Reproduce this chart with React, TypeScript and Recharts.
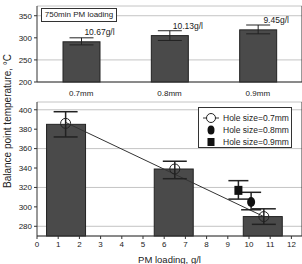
import React from 'react';
import { ComposedChart, Bar, XAxis, YAxis, CartesianGrid, ErrorBar, Scatter, Line } from 'recharts';

const FONT = '"Liberation Sans", Arial, sans-serif';

// Top panel: 750 min PM loading by hole size
const holeSizes = ['0.7mm', '0.8mm', '0.9mm'];
const topTemps = [291, 305, 318];
const topErrors = [[7, 9], [11, 11], [9, 11]];
const topLoadings = ['10.67g/l', '10.13g/l', '9.45g/l'];
const topTicks = [200, 250, 300, 350];

// Bottom panel: balance point vs PM loading
const barLoadings = [1.37, 6.45, 10.65];
const barTemps = [385, 339, 290];

const hole07Loading = [1.35, 6.5, 10.7];
const hole07Temp = [386, 339, 290];
const hole07Err = [[14, 12], [10, 8], [8, 8]];

const hole08Loading = [10.1];
const hole08Temp = [305];
const hole08Err = [[8, 10]];

const hole09Loading = [9.5];
const hole09Temp = [317];
const hole09Err = [[9, 10]];

const trendLoading = [1.35, 10.7];
const trendTemp = [387, 290];

const xTicks = [0, 1, 2, 3, 4, 5, 6, 7, 8, 9, 10, 11, 12];
const bottomTicks = [280, 300, 320, 340, 360, 380, 400];

const topData = holeSizes.map((h, i) => ({ name: h, temp: topTemps[i], err: topErrors[i], loading: topLoadings[i] }));
const barData = barLoadings.map((x, i) => ({ x, temp: barTemps[i] }));
const hole07 = hole07Loading.map((x, i) => ({ x, y: hole07Temp[i], err: hole07Err[i] }));
const hole08 = hole08Loading.map((x, i) => ({ x, y: hole08Temp[i], err: hole08Err[i] }));
const hole09 = hole09Loading.map((x, i) => ({ x, y: hole09Temp[i], err: hole09Err[i] }));
const trend = trendLoading.map((x, i) => ({ x, y: trendTemp[i] }));

const tickStyle = { fontSize: 8, fill: '#222', fontFamily: FONT };
const axisLine = { stroke: '#333' };

const OpenCircle = (props: any) => <circle cx={props.cx} cy={props.cy} r={5} fill="none" stroke="#222" strokeWidth={1} />;
const FilledCircle = (props: any) => <ellipse cx={props.cx} cy={props.cy} rx={4} ry={5} fill="#111" />;
const FilledSquare = (props: any) => <rect x={props.cx - 4} y={props.cy - 4.5} width={8} height={9} fill="#111" />;

// numeric x axis squeezes bars, so draw them at a fixed width around their centre
const WideBar = (props: any) => {
    const { x, y, width, height } = props;
    const cx = x + width / 2;
    return <rect x={cx - 19.5} y={y} width={39} height={height} fill="#4a4a4a" stroke="#222" />;
};

// top bars carry their loading label up and to the right
const LabelledBar = (props: any) => {
    const { x, y, width, height, index } = props;
    return (
        <g>
            <rect x={x} y={y} width={width} height={height} fill="#4a4a4a" stroke="#222" />
            <text x={x + width / 2 + 18} y={y - 7} textAnchor="middle" fontSize={8.5} fill="#222" fontFamily={FONT}>
                {topLoadings[index]}
            </text>
        </g>
    );
};

const App: React.FC = () => {
    return (
        <div style={{ position: 'absolute', left: 0, top: 0, width: 302, height: 264, background: '#fff', fontFamily: FONT }}>
            {/* Top panel */}
            <div style={{ position: 'absolute', left: 0, top: 0 }}>
                <ComposedChart width={302} height={100} data={topData} margin={{ top: 6, right: 0, left: 0, bottom: 0 }}>
                    <CartesianGrid vertical={false} stroke="#c4c4c4" />
                    <XAxis dataKey="name" height={18} tick={tickStyle} tickLine={false} axisLine={axisLine} />
                    <XAxis xAxisId="top" orientation="top" dataKey="name" height={0} tick={false} tickLine={false} axisLine={axisLine} />
                    <YAxis domain={[200, 372]} ticks={topTicks} width={37} tick={tickStyle} tickSize={3} axisLine={axisLine} tickLine={{ stroke: '#333' }} />
                    <YAxis yAxisId="r" orientation="right" domain={[200, 372]} ticks={topTicks} width={5} tick={false} mirror tickSize={3} axisLine={axisLine} tickLine={{ stroke: '#333' }} />
                    <Bar dataKey="temp" barSize={37} shape={LabelledBar} isAnimationActive={false}>
                        <ErrorBar dataKey="err" width={12} stroke="#222" strokeWidth={1} />
                    </Bar>
                </ComposedChart>
            </div>
            <div style={{ position: 'absolute', left: 41, top: 8, width: 76, height: 14, border: '1px solid #333', background: '#fff', fontSize: 8, lineHeight: '12px', textAlign: 'center', color: '#222', boxSizing: 'border-box' }}>
                750min PM loading
            </div>

            {/* Bottom panel */}
            <div style={{ position: 'absolute', left: 0, top: 100 }}>
                <ComposedChart width={302} height={164} data={barData} margin={{ top: 2, right: 0, left: 0, bottom: 0 }}>
                    <CartesianGrid vertical={false} stroke="#c4c4c4" />
                    <XAxis type="number" dataKey="x" domain={[0, 12.5]} ticks={xTicks} height={28} tick={tickStyle} tickSize={3} axisLine={axisLine} tickLine={{ stroke: '#333' }}
                        label={{ value: 'PM loading, g/l', position: 'insideBottom', offset: 1, fontSize: 9.5, fill: '#222', fontFamily: FONT }} />
                    <XAxis xAxisId="top" orientation="top" type="number" dataKey="x" domain={[0, 12.5]} ticks={xTicks} height={0} tick={false} mirror tickSize={3} axisLine={axisLine} tickLine={{ stroke: '#333' }} />
                    <YAxis domain={[270, 408]} ticks={bottomTicks} width={37} tick={tickStyle} tickSize={3} axisLine={axisLine} tickLine={{ stroke: '#333' }} />
                    <YAxis yAxisId="r" orientation="right" domain={[270, 408]} ticks={bottomTicks} width={5} tick={false} mirror tickSize={3} axisLine={axisLine} tickLine={{ stroke: '#333' }} />
                    <Bar dataKey="temp" shape={WideBar} isAnimationActive={false} />
                    <Line data={trend} dataKey="y" stroke="#333" strokeWidth={1} dot={false} isAnimationActive={false} />
                    <Scatter data={hole07} dataKey="y" shape={OpenCircle} isAnimationActive={false}>
                        <ErrorBar dataKey="err" direction="y" width={12} stroke="#222" />
                    </Scatter>
                    <Scatter data={hole08} dataKey="y" shape={FilledCircle} isAnimationActive={false}>
                        <ErrorBar dataKey="err" direction="y" width={10} stroke="#222" />
                    </Scatter>
                    <Scatter data={hole09} dataKey="y" shape={FilledSquare} isAnimationActive={false}>
                        <ErrorBar dataKey="err" direction="y" width={10} stroke="#222" />
                    </Scatter>
                </ComposedChart>
            </div>

            {/* Legend for bottom panel */}
            <svg style={{ position: 'absolute', left: 198, top: 107 }} width={95} height={42}>
                <rect x={0.5} y={0.5} width={93} height={40} fill="#fff" stroke="#333" />
                <line x1={5} y1={11} x2={21} y2={11} stroke="#333" />
                <circle cx={13} cy={11} r={4.5} fill="#fff" stroke="#222" />
                <ellipse cx={13} cy={23} rx={3.5} ry={4.5} fill="#111" />
                <rect x={9.5} y={31} width={7} height={8} fill="#111" />
                <text x={25} y={14} fontSize={8.5} fill="#222" fontFamily={FONT}>Hole size=0.7mm</text>
                <text x={25} y={26} fontSize={8.5} fill="#222" fontFamily={FONT}>Hole size=0.8mm</text>
                <text x={25} y={38} fontSize={8.5} fill="#222" fontFamily={FONT}>Hole size=0.9mm</text>
            </svg>

            {/* Shared y-axis title */}
            <svg style={{ position: 'absolute', left: 0, top: 0 }} width={16} height={264}>
                <text x={11} y={121} transform="rotate(-90 11 121)" textAnchor="middle" fontSize={10} fill="#222" fontFamily={FONT}>
                    Balance point temperature, °C
                </text>
            </svg>
        </div>
    );
};

export default App;
